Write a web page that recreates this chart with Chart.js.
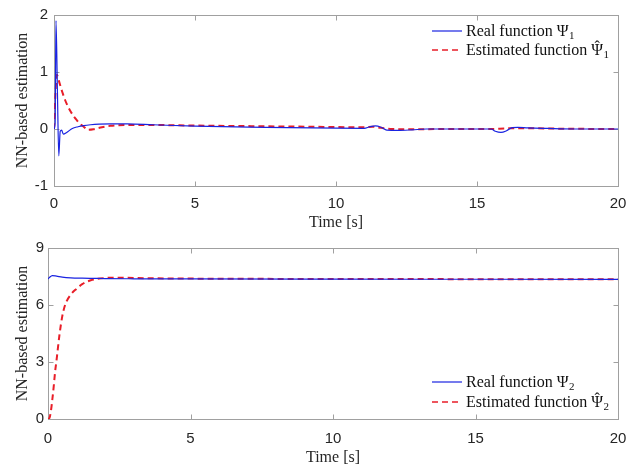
<!DOCTYPE html>
<html>
<head>
<meta charset="utf-8">
<script src="https://cdn.jsdelivr.net/npm/chart.js@4.4.1/dist/chart.umd.min.js"></script>
<style>
  html, body { margin: 0; padding: 0; background: #fff; }
  .pane { position: absolute; left: 0; width: 639px; height: 235px; }
</style>
</head>
<body>
<div class="pane" style="top:0"><canvas id="chart1" width="639" height="235"></canvas></div>
<div class="pane" style="top:235px"><canvas id="chart2" width="639" height="235"></canvas></div>
<script>
// tick labels
const timeTicks = [0, 5, 10, 15, 20];
const psi1Ticks = [-1, 0, 1, 2];
const psi2Ticks = [0, 3, 6, 9];

// Psi_1 : real function
const realT1 = [0, 0.04, 0.07, 0.12, 0.17, 0.22, 0.27, 0.33, 0.45, 0.65, 0.85, 1.05, 1.3, 1.6, 2.0, 2.6, 3.5, 5, 7.5, 10,
                11.0, 11.2, 11.4, 11.6, 11.8, 12.2, 12.7, 13.2, 15.0, 15.5, 15.65, 15.85, 16.05, 16.25, 16.45, 16.8, 17.5, 18.5, 20];
const realV1 = [0, 0.1, 1.9, 0.7, -0.47, -0.04, -0.02, -0.09, -0.06, 0.01, 0.04, 0.06, 0.075, 0.085, 0.09, 0.09, 0.075, 0.05, 0.03, 0.015,
                0.012, 0.04, 0.055, 0.03, -0.02, -0.025, -0.015, 0.0, 0.0, 0.0, -0.04, -0.06, -0.03, 0.025, 0.03, 0.02, 0.01, 0.0, 0.0];
// Psi_1 : estimated function
const estT1 = [0, 0.05, 0.1, 0.2, 0.3, 0.4, 0.5, 0.6, 0.7, 0.8, 0.9, 1.0, 1.1, 1.2, 1.4, 1.7, 2.0, 2.5, 3.5, 5,
               7, 9, 11, 11.3, 11.6, 12.0, 12.5, 14, 15.5, 16.0, 16.5, 18, 20];
const estV1 = [0, 0.6, 0.95, 0.8, 0.64, 0.5, 0.39, 0.3, 0.22, 0.16, 0.1, 0.06, 0.02, -0.015, -0.005, 0.03, 0.055, 0.07, 0.07, 0.06,
               0.05, 0.04, 0.03, 0.04, 0.02, 0.0, -0.005, 0.0, 0.0, 0.01, 0.015, 0.005, 0.0];

// Psi_2 : real function
const realT2 = [0, 0.05, 0.15, 0.3, 0.5, 0.8, 1.2, 1.6, 2, 3, 5, 10, 15, 20];
const realV2 = [7.37, 7.45, 7.55, 7.52, 7.47, 7.43, 7.41, 7.4, 7.39, 7.38, 7.37, 7.36, 7.355, 7.35];
// Psi_2 : estimated function
const estT2 = [0, 0.05, 0.1, 0.15, 0.2, 0.25, 0.3, 0.4, 0.5, 0.6, 0.8, 1.0, 1.2, 1.5, 2, 2.5, 3, 5, 10, 15, 20];
const estV2 = [0, 0.05, 0.4, 1.0, 1.7, 2.5, 3.1, 4.4, 5.4, 6.0, 6.55, 6.85, 7.1, 7.3, 7.42, 7.44, 7.42, 7.39, 7.37, 7.36, 7.35];

const toPoints = (ts, vs) => ts.map((t, i) => ({ x: t, y: vs[i] }));

const BLUE = 'rgb(25, 35, 225)';
const RED = 'rgb(232, 30, 40)';
const AXIS = '#a0a0a0';
const TEXT = '#262626';

// MATLAB-like box with inward ticks
const boxPlugin = {
  id: 'boxAxes',
  beforeDatasetsDraw(chart) {
    const { ctx, chartArea: a, scales: { x, y } } = chart;
    ctx.save();
    ctx.strokeStyle = AXIS;
    ctx.lineWidth = 1;
    const l = Math.round(a.left) + 0.5, r = Math.round(a.right) + 0.5;
    const t = Math.round(a.top) + 0.5, b = Math.round(a.bottom) + 0.5;
    ctx.strokeRect(l, t, r - l, b - t);
    ctx.beginPath();
    x.ticks.forEach(tk => {
      const px = Math.round(x.getPixelForValue(tk.value)) + 0.5;
      ctx.moveTo(px, b); ctx.lineTo(px, b - 5);
      ctx.moveTo(px, t); ctx.lineTo(px, t + 5);
    });
    y.ticks.forEach(tk => {
      const py = Math.round(y.getPixelForValue(tk.value)) + 0.5;
      ctx.moveTo(l, py); ctx.lineTo(l + 5, py);
      ctx.moveTo(r, py); ctx.lineTo(r - 5, py);
    });
    ctx.stroke();
    ctx.restore();
  }
};

// legend drawn inside the axes, without a frame
const innerLegend = {
  id: 'innerLegend',
  afterDraw(chart, args, opts) {
    const { ctx, chartArea: a } = chart;
    ctx.save();
    chart.data.datasets.forEach((ds, i) => {
      const yy = opts.anchor === 'top' ? a.top + opts.rows[i] : a.bottom - opts.rows[i];
      const x0 = a.right - 186, x1 = a.right - 156, tx = a.right - 152;
      ctx.strokeStyle = ds.borderColor;
      ctx.lineWidth = ds.borderWidth > 1.5 ? 1.6 : 1.2;
      ctx.setLineDash(ds.borderDash || []);
      ctx.beginPath();
      ctx.moveTo(x0, yy); ctx.lineTo(x1, yy);
      ctx.stroke();
      ctx.setLineDash([]);

      const base = yy + 5;
      const symbol = 'Ψ';
      const prefix = ds.label.slice(0, ds.label.length - symbol.length);
      ctx.fillStyle = '#111';
      ctx.textBaseline = 'alphabetic';
      ctx.font = '16px "Liberation Serif", serif';
      ctx.fillText(ds.label, tx, base);
      const wPre = ctx.measureText(prefix).width;
      const wSym = ctx.measureText(symbol).width;
      const w = ctx.measureText(ds.label).width;
      if (ds.hat) {
        ctx.textAlign = 'center';
        ctx.fillText('\u02C6', tx + wPre + wSym / 2, base - 3);
        ctx.textAlign = 'left';
      }
      ctx.font = '11px "Liberation Serif", serif';
      ctx.fillText(opts.sub, tx + w + 0.5, base + 3);
    });
    ctx.restore();
  }
};

function makeChart(id, cfg) {
  return new Chart(document.getElementById(id), {
    type: 'line',
    data: {
      datasets: [
        { label: 'Real function Ψ', data: toPoints(cfg.realT, cfg.realV),
          borderColor: BLUE, borderWidth: 1.2, pointRadius: 0, cubicInterpolationMode: 'monotone', fill: false },
        { label: 'Estimated function Ψ', hat: true, data: toPoints(cfg.estT, cfg.estV),
          borderColor: RED, borderWidth: 2, borderDash: [6, 4], pointRadius: 0, cubicInterpolationMode: 'monotone', fill: false }
      ]
    },
    options: {
      responsive: false,
      animation: false,
      events: [],
      layout: { padding: { top: cfg.top, right: 21, left: 0, bottom: 0 } },
      plugins: {
        legend: { display: false },
        tooltip: { enabled: false },
        innerLegend: { anchor: cfg.legendAnchor, rows: cfg.legendRows, sub: cfg.sub }
      },
      scales: {
        x: {
          type: 'linear', min: 0, max: 20,
          afterBuildTicks: s => { s.ticks = timeTicks.map(v => ({ value: v })); },
          afterFit: s => { s.height = cfg.xHeight; },
          grid: { display: false, drawTicks: false }, border: { display: false },
          ticks: { color: TEXT, padding: cfg.xPad, maxRotation: 0, font: { family: '"Liberation Sans", Arial, sans-serif', size: 15 } },
          title: { display: true, text: 'Time [s]', color: TEXT, padding: { top: 0, bottom: 3 },
                   font: { family: '"Liberation Serif", serif', size: 16 } }
        },
        y: {
          type: 'linear', min: cfg.yTicks[0], max: cfg.yTicks[cfg.yTicks.length - 1],
          afterBuildTicks: s => { s.ticks = cfg.yTicks.map(v => ({ value: v })); },
          afterFit: s => { s.width = cfg.yWidth; },
          grid: { display: false, drawTicks: false }, border: { display: false },
          ticks: { color: TEXT, padding: cfg.yPad, font: { family: '"Liberation Sans", Arial, sans-serif', size: 15 } },
          title: { display: true, text: 'NN-based estimation', color: TEXT, padding: { top: 13, bottom: 0 },
                   font: { family: '"Liberation Serif", serif', size: 16 } }
        }
      }
    },
    plugins: [boxPlugin, innerLegend]
  });
}

makeChart('chart1', {
  realT: realT1, realV: realV1, estT: estT1, estV: estV1, yTicks: psi1Ticks, sub: '1',
  top: 12, xHeight: 49, yWidth: 54, xPad: 9, yPad: 6, legendAnchor: 'top', legendRows: [16, 35]
});
makeChart('chart2', {
  realT: realT2, realV: realV2, estT: estT2, estV: estV2, yTicks: psi2Ticks, sub: '2',
  top: 9, xHeight: 51, yWidth: 48, xPad: 11, yPad: 4, legendAnchor: 'bottom', legendRows: [37, 17]
});
</script>
</body>
</html>
